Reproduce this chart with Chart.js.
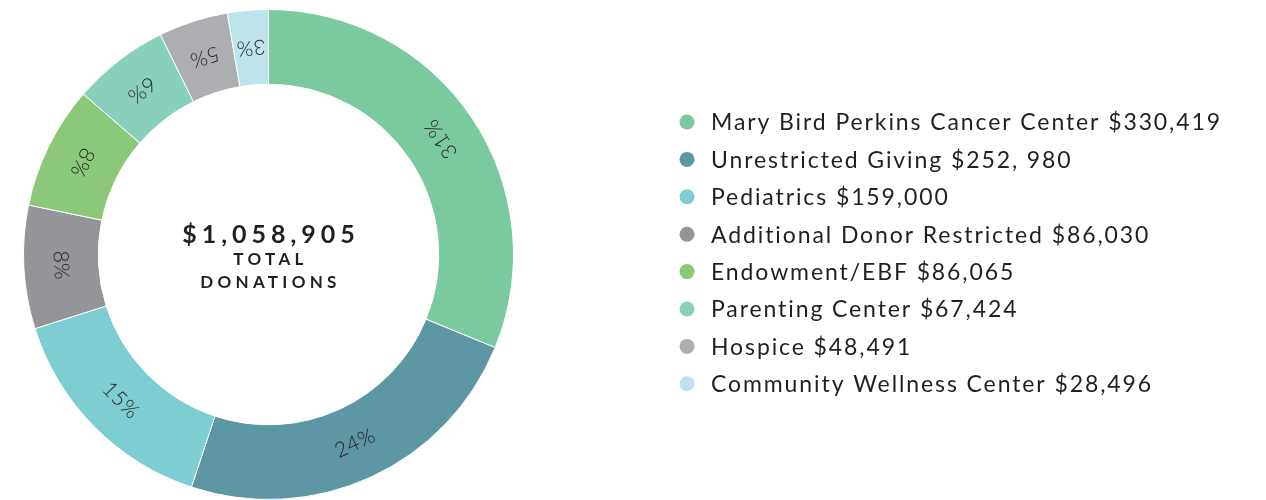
<!DOCTYPE html>
<html>
<head>
<meta charset="utf-8">
<script src="https://cdn.jsdelivr.net/npm/chart.js@4.4.1/dist/chart.umd.min.js"></script>
<style>
  html, body { margin: 0; padding: 0; background: #ffffff; }
  #wrap { width: 1266px; height: 500px; position: relative; }
</style>
</head>
<body>
<div id="wrap"><canvas id="c" width="1266" height="500"></canvas></div>
<script>
const categories = [
  "Mary Bird Perkins Cancer Center",
  "Unrestricted Giving",
  "Pediatrics",
  "Additional Donor Restricted",
  "Endowment/EBF",
  "Parenting Center",
  "Hospice",
  "Community Wellness Center"
];
const donations = [330419, 252980, 159000, 86030, 86065, 67424, 48491, 28496];
const amountLabels = ["$330,419", "$252, 980", "$159,000", "$86,030", "$86,065", "$67,424", "$48,491", "$28,496"];
const colors = ["#7bc99e", "#5e97a4", "#7ecdd0", "#939598", "#8bc87a", "#89d0bc", "#adaeb2", "#bde4ea"];
const totalLabel = "$1,058,905";
const centerLines = ["TOTAL", "DONATIONS"];

const TEXT = "#231f20";
const FONT = "Lato, 'Open Sans', sans-serif";

const ringLabels = {
  id: "ringLabels",
  afterDatasetsDraw(chart) {
    const ctx = chart.ctx;
    const meta = chart.getDatasetMeta(0);
    const total = donations.reduce((a, b) => a + b, 0);
    ctx.save();
    ctx.fillStyle = TEXT;
    ctx.font = "300 21px " + FONT;
    ctx.letterSpacing = "0.5px";
    ctx.textAlign = "center";
    ctx.textBaseline = "middle";
    meta.data.forEach((arc, i) => {
      const p = arc.getProps(["x", "y", "startAngle", "endAngle", "innerRadius", "outerRadius"], true);
      const mid = (p.startAngle + p.endAngle) / 2;
      const r = (p.innerRadius + p.outerRadius) / 2;
      const x = p.x + Math.cos(mid) * r;
      const y = p.y + Math.sin(mid) * r;
      ctx.save();
      ctx.translate(x, y);
      ctx.rotate(mid - Math.PI / 2);
      ctx.fillText(Math.round(donations[i] / total * 100) + "%", 0, 0);
      ctx.restore();
    });
    // center text
    const a0 = meta.data[0];
    const cx = a0.x, cy = a0.y;
    ctx.fillStyle = TEXT;
    ctx.font = "700 25px " + FONT;
    ctx.letterSpacing = "5px";
    ctx.fillText(totalLabel, cx + 2.5, cy - 20);
    ctx.font = "700 17px " + FONT;
    ctx.letterSpacing = "4.3px";
    ctx.fillText(centerLines[0], cx + 2, cy + 5);
    ctx.fillText(centerLines[1], cx + 2, cy + 28);
    ctx.restore();
  }
};

const sideLegend = {
  id: "sideLegend",
  afterDraw(chart) {
    const ctx = chart.ctx;
    const left = chart.chartArea.right + 173;
    const top = 122;
    const step = 37.4;
    ctx.save();
    ctx.font = "400 23px " + FONT;
    ctx.textAlign = "left";
    ctx.textBaseline = "middle";
    ctx.letterSpacing = "1.9px";
    categories.forEach((name, i) => {
      const y = top + i * step;
      ctx.beginPath();
      ctx.arc(left, y, 7.5, 0, Math.PI * 2);
      ctx.fillStyle = colors[i];
      ctx.fill();
      ctx.fillStyle = TEXT;
      ctx.fillText(name + " " + amountLabels[i], left + 24, y + 1);
    });
    ctx.restore();
  }
};

new Chart(document.getElementById("c"), {
  type: "doughnut",
  data: {
    labels: categories,
    datasets: [{
      data: donations,
      backgroundColor: colors,
      borderColor: "#ffffff",
      borderWidth: 1,
      hoverOffset: 0
    }]
  },
  options: {
    responsive: false,
    animation: false,
    cutout: "69.5%",
    layout: { padding: { left: 23, top: 9, bottom: 0, right: 752 } },
    plugins: {
      legend: { display: false },
      tooltip: { enabled: false }
    }
  },
  plugins: [ringLabels, sideLegend]
});
</script>
</body>
</html>
